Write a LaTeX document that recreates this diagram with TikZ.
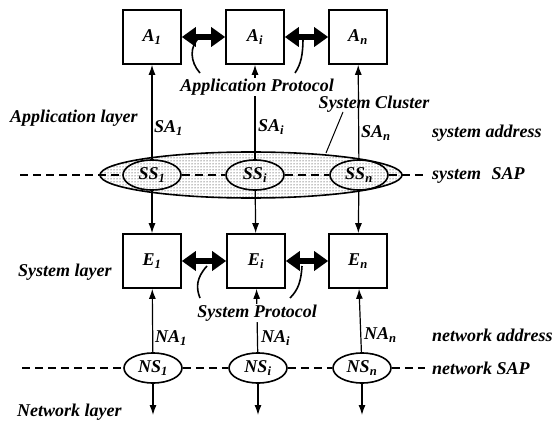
\documentclass[tikz,border=0pt]{standalone}
\usepackage{fontspec}
\setmainfont{Liberation Serif}
\usetikzlibrary{shapes.geometric,arrows.meta,patterns}
\newcommand{\lsub}[1]{\textsubscript{#1}}
\begin{document}
\begin{tikzpicture}[x=1pt,y=-1pt,
    lbl/.style={font=\fontsize{18}{20}\selectfont\bfseries\itshape, inner sep=1pt},
    unit/.style={lbl, draw, line width=1.6pt, minimum width=58pt, minimum height=54pt},
    sap/.style={lbl, ellipse, draw, line width=1.6pt, minimum width=58pt, minimum height=30pt, inner sep=0pt},
    proto/.style={line width=5.5pt, {Triangle[length=14pt,width=19pt]}-{Triangle[length=14pt,width=19pt]}},
    link/.style={line width=1.2pt, -{Latex[length=10pt,width=7pt]}},
    sapline/.style={line width=1.6pt, dash pattern=on 8pt off 5pt}]
    \useasboundingbox (0,0) rectangle (554,422);
    % system cluster
    \node[ellipse, draw, line width=1.6pt, pattern=dots, minimum width=302pt, minimum height=46pt] (clus) at (251,175) {};
    \node[unit] (A1) at (152,37) {A\lsub{1}};
    \node[unit] (Ai) at (255,37) {A\lsub{i}};
    \node[unit] (An) at (358,37) {A\lsub{n}};
    \node[unit] (E1) at (152,261) {E\lsub{1}};
    \node[unit] (Ei) at (256,261) {E\lsub{i}};
    \node[unit] (En) at (358,261) {E\lsub{n}};
    \node[sap] (SS1) at (152,175) {SS\lsub{1}};
    \node[sap] (SSi) at (255,175) {SS\lsub{i}};
    \node[sap] (SSn) at (359,175) {SS\lsub{n}};
    \node[sap] (NS1) at (153,368) {NS\lsub{1}};
    \node[sap] (NSi) at (258,368) {NS\lsub{i}};
    \node[sap] (NSn) at (362,368) {NS\lsub{n}};
    \coordinate (b1) at (153,415);
    \coordinate (bi) at (258,415);
    \coordinate (bn) at (362,415);
    \coordinate (sl) at (20,175);
    \coordinate (sr) at (425,175);
    \coordinate (nl) at (22,368);
    \coordinate (nr) at (425,368);
    % service access points
    \draw[sapline] (sl) -- (SS1);
    \draw[sapline] (SS1) -- (SSi);
    \draw[sapline] (SSi) -- (SSn);
    \draw[sapline] (SSn) -- (sr);
    \draw[sapline] (nl) -- (NS1);
    \draw[sapline] (NS1) -- (NSi);
    \draw[sapline] (NSi) -- (NSn);
    \draw[sapline] (NSn) -- (nr);
    \draw[link] (SS1) -- (A1);
    \draw[link] (SSi) -- (Ai);
    \draw[link] (SSn) -- (An);
    \draw[link] (SS1) -- (E1);
    \draw[link] (SSi) -- (Ei);
    \draw[link] (SSn) -- (En);
    \draw[link] (NS1) -- (E1);
    \draw[link] (NSi) -- (Ei);
    \draw[link] (NSn) -- (En);
    \draw[link] (NS1) -- (b1);
    \draw[link] (NSi) -- (bi);
    \draw[link] (NSn) -- (bn);
    % protocols
    \draw[proto] (A1) -- (Ai);
    \draw[proto] (Ai) -- (An);
    \draw[proto] (E1) -- (Ei);
    \draw[proto] (Ei) -- (En);
    \coordinate (pa1) at (200,37);
    \coordinate (pa2) at (200,73);
    \coordinate (pa3) at (303,37);
    \coordinate (pa4) at (295,73);
    \coordinate (ps1) at (207,266);
    \coordinate (ps2) at (200,298);
    \coordinate (ps3) at (302,266);
    \coordinate (ps4) at (290,298);
    \draw[line width=1.6pt] (pa1) .. controls (189,46) and (190,62) .. (pa2);
    \draw[line width=1.6pt] (pa3) .. controls (303,55) and (301,64) .. (pa4);
    \draw[line width=1.6pt] (ps1) .. controls (196,278) and (196,288) .. (ps2);
    \draw[line width=1.6pt] (ps3) .. controls (301,282) and (298,290) .. (ps4);
    \node[lbl, fill=white] (aprot) at (257,87) {Application Protocol};
    \node[lbl, fill=white] (sprot) at (257,313) {System Protocol};
    % cluster label
    \node[lbl] (clbl) at (374,104) {System Cluster};
    \coordinate (cl1) at (343,112);
    \coordinate (cl2) at (326,153);
    \draw[line width=1pt] (cl1) -- (cl2);
    % addresses
    \node[lbl, anchor=west] (sa1) at (153,128) {SA\lsub{1}};
    \node[lbl, anchor=west] (sai) at (257,127) {SA\lsub{i}};
    \node[lbl, anchor=west] (san) at (360,133) {SA\lsub{n}};
    \node[lbl, anchor=west] (na1) at (154,338) {NA\lsub{1}};
    \node[lbl, anchor=west] (nai) at (260,338) {NA\lsub{i}};
    \node[lbl, anchor=west] (nan) at (363,335) {NA\lsub{n}};
    % layers
    \node[lbl, anchor=west] (lapp) at (9,118) {Application layer};
    \node[lbl, anchor=west] (lsys) at (17,272) {System layer};
    \node[lbl, anchor=west] (lnet) at (16,412) {Network layer};
    \node[lbl, anchor=west] (saddr) at (431,133) {system address};
    \node[lbl, anchor=west] (ssap) at (431,175) {system\,\, SAP};
    \node[lbl, anchor=west] (naddr) at (431,335) {network address};
    \node[lbl, anchor=west] (nsap) at (431,368) {network SAP};
\end{tikzpicture}
\end{document}
